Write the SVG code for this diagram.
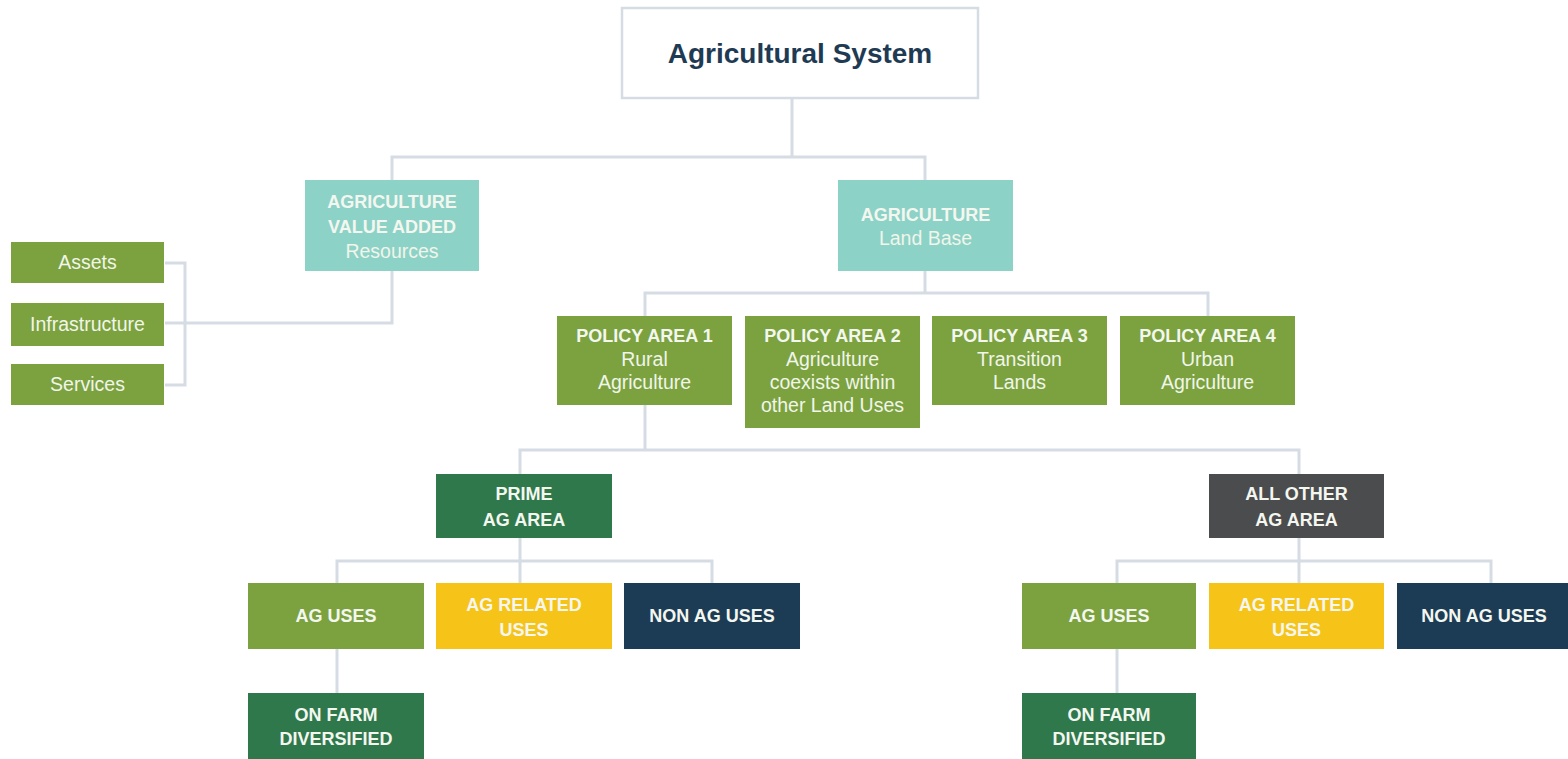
<svg xmlns="http://www.w3.org/2000/svg" width="1568" height="759" viewBox="0 0 1568 759">
<style>
.b{font-family:"Liberation Sans",Arial,sans-serif;font-weight:bold;font-size:18px;fill:#f4f7ef;text-anchor:middle}
.r{font-family:"Liberation Sans",Arial,sans-serif;font-size:19.5px;fill:#f1f5ea;text-anchor:middle}
.c{fill:none;stroke:#d5dce3;stroke-width:3}
.teal{fill:#8dd2c7}.lg{fill:#7ba23f}.dg{fill:#2e784c}.ye{fill:#f6c419}.nv{fill:#1c3c55}.ch{fill:#4b4c4e}
</style>
<rect width="1568" height="759" fill="#ffffff"/>
<g id="connectors">
<path class="c" d="M792 98V157M392 180V157H925V180"/>
<path class="c" d="M392 271V323H165M165 263H185V385H165"/>
<path class="c" d="M925 271V293M645 316V293H1208V316"/>
<path class="c" d="M645 405V450M520 474V450H1299V474"/>
<path class="c" d="M520 538V561M337 583V561H712V583M520 561V583"/>
<path class="c" d="M1299 538V561M1117 583V561H1491V583M1299 561V583"/>
<path class="c" d="M337 649V693M1117 649V693"/>
</g>
<g id="agricultural-system">
<rect x="622" y="8" width="356" height="90" fill="#ffffff" stroke="#d5dce3" stroke-width="2.5"/>
<text x="800" y="63" style="font-family:'Liberation Sans',Arial,sans-serif;font-weight:bold;font-size:28px;fill:#1f3b54;text-anchor:middle">Agricultural System</text>
</g>
<g id="value-added">
<rect class="teal" x="305" y="180" width="174" height="91"/>
<text class="b" x="392" y="208">AGRICULTURE</text>
<text class="b" x="392" y="233">VALUE ADDED</text>
<text class="r" x="392" y="258">Resources</text>
</g>
<g id="assets">
<rect class="lg" x="11" y="242" width="153" height="41"/>
<text class="r" x="87.5" y="269">Assets</text>
</g>
<g id="infrastructure">
<rect class="lg" x="11" y="303" width="153" height="43"/>
<text class="r" x="87.5" y="331">Infrastructure</text>
</g>
<g id="services">
<rect class="lg" x="11" y="364" width="153" height="41"/>
<text class="r" x="87.5" y="391">Services</text>
</g>
<g id="land-base">
<rect class="teal" x="838" y="180" width="175" height="91"/>
<text class="b" x="925.5" y="221">AGRICULTURE</text>
<text class="r" x="925.5" y="245">Land Base</text>
</g>
<g id="policy-area-1">
<rect class="lg" x="557" y="316" width="175" height="89"/>
<text class="b" x="644.5" y="342">POLICY AREA 1</text>
<text class="r" x="644.5" y="366">Rural</text>
<text class="r" x="644.5" y="389">Agriculture</text>
</g>
<g id="policy-area-2">
<rect class="lg" x="745" y="316" width="175" height="112"/>
<text class="b" x="832.5" y="342">POLICY AREA 2</text>
<text class="r" x="832.5" y="366">Agriculture</text>
<text class="r" x="832.5" y="389">coexists within</text>
<text class="r" x="832.5" y="412">other Land Uses</text>
</g>
<g id="policy-area-3">
<rect class="lg" x="932" y="316" width="175" height="89"/>
<text class="b" x="1019.5" y="342">POLICY AREA 3</text>
<text class="r" x="1019.5" y="366">Transition</text>
<text class="r" x="1019.5" y="389">Lands</text>
</g>
<g id="policy-area-4">
<rect class="lg" x="1120" y="316" width="175" height="89"/>
<text class="b" x="1207.5" y="342">POLICY AREA 4</text>
<text class="r" x="1207.5" y="366">Urban</text>
<text class="r" x="1207.5" y="389">Agriculture</text>
</g>
<g id="prime-ag-area">
<rect class="dg" x="436" y="474" width="176" height="64"/>
<text class="b" x="524" y="500">PRIME</text>
<text class="b" x="524" y="526">AG AREA</text>
</g>
<g id="all-other-ag-area">
<rect class="ch" x="1209" y="474" width="175" height="64"/>
<text class="b" x="1296.5" y="500">ALL OTHER</text>
<text class="b" x="1296.5" y="526">AG AREA</text>
</g>
<g id="ag-uses-1">
<rect class="lg" x="248" y="583" width="176" height="66"/>
<text class="b" x="336" y="622">AG USES</text>
</g>
<g id="ag-related-1">
<rect class="ye" x="436" y="583" width="176" height="66"/>
<text class="b" x="524" y="611">AG RELATED</text>
<text class="b" x="524" y="636">USES</text>
</g>
<g id="non-ag-1">
<rect class="nv" x="624" y="583" width="176" height="66"/>
<text class="b" x="712" y="622">NON AG USES</text>
</g>
<g id="on-farm-1">
<rect class="dg" x="248" y="693" width="176" height="70"/>
<text class="b" x="336" y="721">ON FARM</text>
<text class="b" x="336" y="745">DIVERSIFIED</text>
</g>
<g id="ag-uses-2">
<rect class="lg" x="1022" y="583" width="174" height="66"/>
<text class="b" x="1109" y="622">AG USES</text>
</g>
<g id="ag-related-2">
<rect class="ye" x="1209" y="583" width="175" height="66"/>
<text class="b" x="1296.5" y="611">AG RELATED</text>
<text class="b" x="1296.5" y="636">USES</text>
</g>
<g id="non-ag-2">
<rect class="nv" x="1397" y="583" width="175" height="66"/>
<text class="b" x="1484" y="622">NON AG USES</text>
</g>
<g id="on-farm-2">
<rect class="dg" x="1022" y="693" width="174" height="70"/>
<text class="b" x="1109" y="721">ON FARM</text>
<text class="b" x="1109" y="745">DIVERSIFIED</text>
</g>
</svg>
